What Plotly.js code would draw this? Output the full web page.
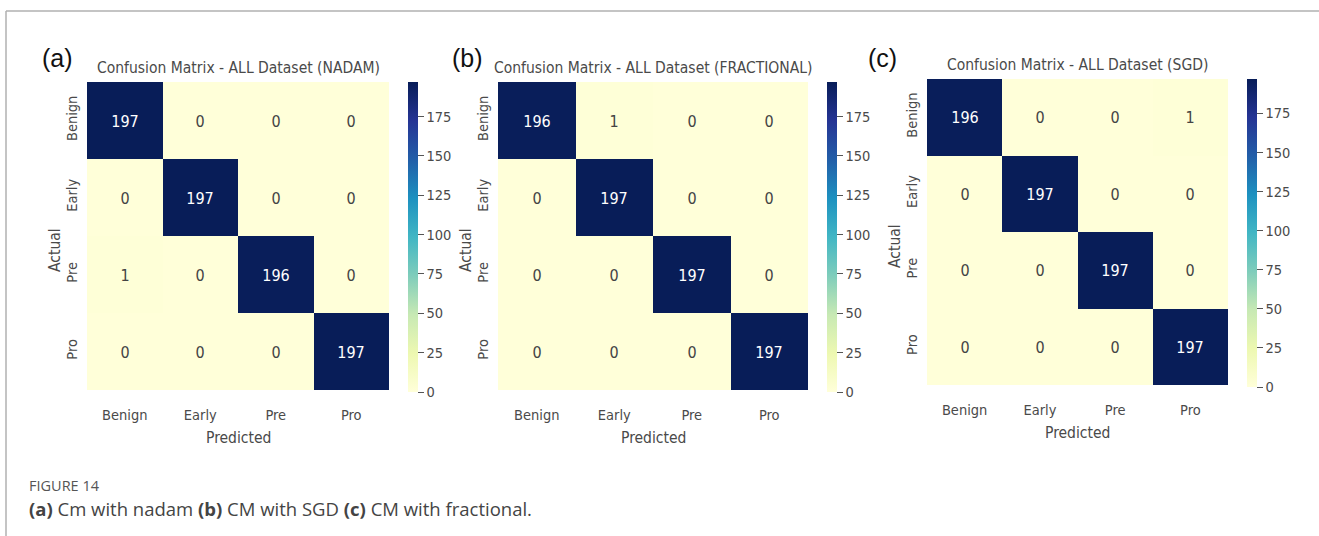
<!DOCTYPE html>
<html>
<head>
<meta charset="utf-8">
<script src="https://cdn.plot.ly/plotly-3.0.1.min.js"></script>
<style>
html,body{margin:0;padding:0;background:#fff;}
#chart{width:1319px;height:536px;}
</style>
</head>
<body>
<div id="chart"></div>
<script>
// ---- data ----
const classLabels = ["Benign", "Early", "Pre", "Pro"];
const cmNadam = [
  [197, 0, 0, 0],
  [0, 197, 0, 0],
  [1, 0, 196, 0],
  [0, 0, 0, 197]
];
const cmFractional = [
  [196, 1, 0, 0],
  [0, 197, 0, 0],
  [0, 0, 197, 0],
  [0, 0, 0, 197]
];
const cmSgd = [
  [196, 0, 0, 1],
  [0, 197, 0, 0],
  [0, 0, 197, 0],
  [0, 0, 0, 197]
];
const panelTitles = [
  "Confusion Matrix - ALL Dataset (NADAM)",
  "Confusion Matrix - ALL Dataset (FRACTIONAL)",
  "Confusion Matrix - ALL Dataset (SGD)"
];
const panelLetters = ["(a)", "(b)", "(c)"];
const colorbarTicks = [0, 25, 50, 75, 100, 125, 150, 175];
const captionHead = "FIGURE 14";
const captionText = "<b>(a)</b> Cm with nadam <b>(b)</b> CM with SGD <b>(c)</b> CM with fractional.";

// ---- styling / layout ----
const W = 1319, H = 536;
const px = x => x / W;
const py = y => 1 - y / H;

const ylgnbu = [
  [0, "#ffffd9"], [0.125, "#edf8b1"], [0.25, "#c7e9b4"], [0.375, "#7fcdbb"],
  [0.5, "#41b6c4"], [0.625, "#1d91c0"], [0.75, "#225ea8"], [0.875, "#253494"], [1, "#081d58"]
];

const FONT = "DejaVu Sans Condensed, DejaVu Sans, sans-serif";
const GRAY = "#4a4a4a";

// pixel boxes for each panel
const panels = [
  {z: cmNadam,      hx: [87, 389],  hy: [82, 390], cbx: 408,  cby: [82, 392], lx: 40},
  {z: cmFractional, hx: [498, 808], hy: [82, 390], cbx: 827,  cby: [82, 392], lx: 450},
  {z: cmSgd,        hx: [927, 1228],hy: [79, 385], cbx: 1247, cby: [79, 387], lx: 866}
];

const data = [];
const layout = {
  width: W, height: H,
  margin: {l: 0, r: 0, t: 0, b: 0},
  paper_bgcolor: "#fff",
  plot_bgcolor: "#fff",
  showlegend: false,
  font: {family: FONT, color: GRAY},
  annotations: [],
  shapes: [
    {type: "line", xref: "paper", yref: "paper", x0: px(6), x1: 1, y0: py(11), y1: py(11), line: {color: "#b0b0b0", width: 1.5}},
    {type: "line", xref: "paper", yref: "paper", x0: px(6), x1: px(6), y0: py(11), y1: 0, line: {color: "#b0b0b0", width: 1.5}}
  ]
};

panels.forEach((p, i) => {
  const n = i === 0 ? "" : String(i + 1);
  const xa = "x" + n, ya = "y" + n;
  data.push({
    type: "heatmap",
    z: p.z,
    x: classLabels,
    y: classLabels,
    xaxis: xa, yaxis: ya,
    zmin: 0, zmax: 197,
    colorscale: ylgnbu,
    texttemplate: "%{z}",
    textfont: {family: FONT, size: 16},
    hoverinfo: "skip",
    colorbar: {
      x: px(p.cbx), xanchor: "left", xpad: 0,
      y: py(p.cby[0]), yanchor: "top", ypad: 0,
      len: (p.cby[1] - p.cby[0]) / H, lenmode: "fraction",
      thickness: 10, thicknessmode: "pixels",
      outlinewidth: 0,
      tickvals: colorbarTicks,
      ticks: "outside", ticklen: 6, tickwidth: 1, tickcolor: "#555",
      tickfont: {family: FONT, size: 14.5, color: GRAY}
    }
  });
  layout["xaxis" + n] = {
    domain: [px(p.hx[0]), px(p.hx[1])],
    anchor: ya,
    showgrid: false, zeroline: false, showline: false, ticks: "",
    ticklabelstandoff: 14,
    tickfont: {family: FONT, size: 14.5, color: GRAY},
    fixedrange: true
  };
  layout["yaxis" + n] = {
    domain: [py(p.hy[1]), py(p.hy[0])],
    anchor: xa,
    autorange: "reversed",
    showgrid: false, zeroline: false, showline: false, ticks: "",
    tickangle: -90,
    ticklabelstandoff: 6,
    tickfont: {family: FONT, size: 14.5, color: GRAY},
    fixedrange: true
  };
  const cx = (p.hx[0] + p.hx[1]) / 2;
  layout.annotations.push(
    {text: panelTitles[i], xref: "paper", yref: "paper", x: px(cx), y: py(p.hy[0] - 14),
     showarrow: false, font: {family: FONT, size: 15.5, color: GRAY}, xanchor: "center", yanchor: "middle"},
    {text: panelLetters[i], xref: "paper", yref: "paper", x: px(p.lx), y: py(58),
     showarrow: false, font: {family: "Liberation Sans, Arial, sans-serif", size: 25, color: "#111"}, xanchor: "left", yanchor: "middle"},
    {text: "Actual", xref: "paper", yref: "paper", x: px(p.hx[0] - 32), y: py((p.hy[0] + p.hy[1]) / 2 + 14),
     showarrow: false, textangle: -90, font: {family: FONT, size: 15.5, color: GRAY}, xanchor: "center", yanchor: "middle"},
    {text: "Predicted", xref: "paper", yref: "paper", x: px(cx), y: py(p.hy[1] + 48),
     showarrow: false, font: {family: FONT, size: 15.5, color: GRAY}, xanchor: "center", yanchor: "middle"}
  );
});

layout.annotations.push(
  {text: captionHead, xref: "paper", yref: "paper", x: px(27), y: py(485), showarrow: false,
   font: {family: "Open Sans, Lato, sans-serif", size: 14.5, color: "#555"}, xanchor: "left", yanchor: "middle"},
  {text: captionText, xref: "paper", yref: "paper", x: px(27), y: py(508), showarrow: false,
   font: {family: "Open Sans, Lato, sans-serif", size: 18.5, color: "#444"}, xanchor: "left", yanchor: "middle"}
);

Plotly.newPlot("chart", data, layout, {displayModeBar: false, staticPlot: true});
</script>
</body>
</html>
